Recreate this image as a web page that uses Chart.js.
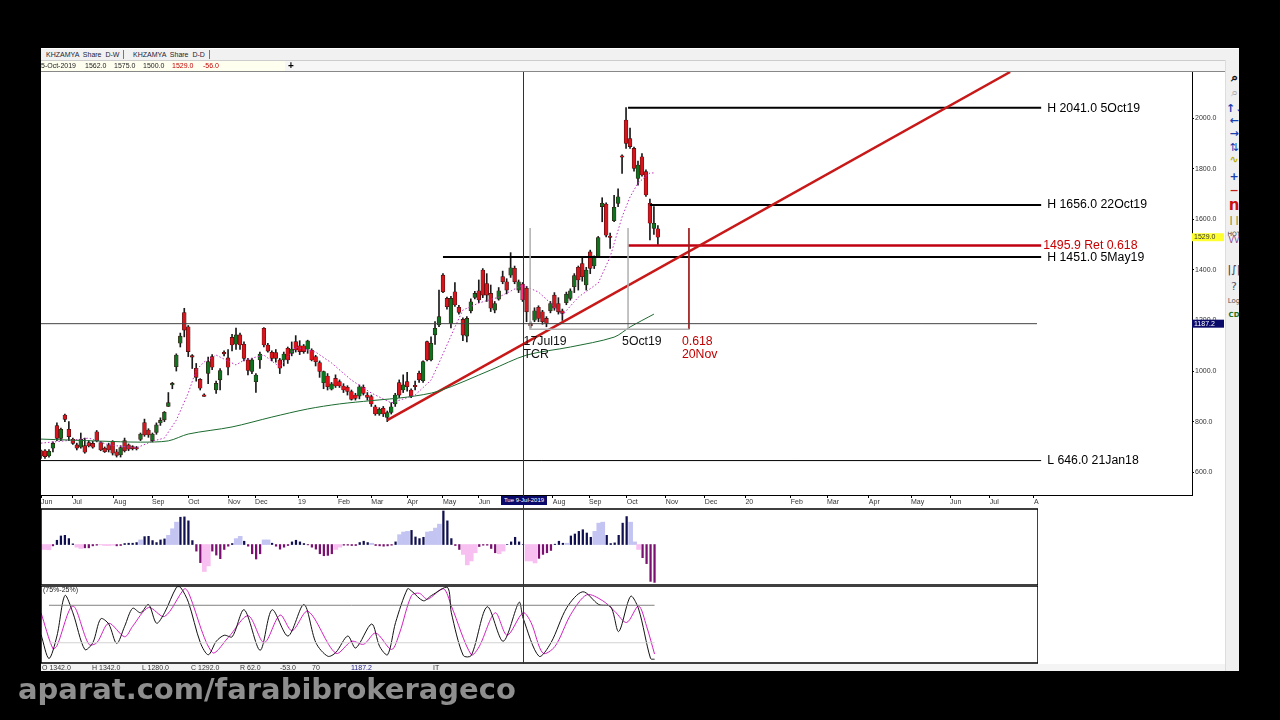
<!DOCTYPE html>
<html>
<head>
<meta charset="utf-8">
<title>KHZAMYA Share D-D</title>
<script src="https://cdn.jsdelivr.net/npm/chart.js@4"></script>
<style>
  html, body { margin: 0; padding: 0; background: #000; }
  #wrap { position: relative; width: 1280px; height: 720px; overflow: hidden; background: #000; font-family: "Liberation Sans", sans-serif; }
  #win { position: absolute; left: 41px; top: 48px; width: 1198px; height: 623px; background: #fff; }
  canvas { position: absolute; filter: blur(0.35px); }
  #tabs { position: absolute; left: 41px; top: 49px; width: 1198px; height: 11px; background: #f1f1f1; border-bottom: 1px solid #ccc; }
  .tab { position: absolute; top: 1px; height: 9px; font-size: 7px; line-height: 9px; color: #223; white-space: pre; border-right: 1px solid #777; padding: 0 4px; }
  #info { position: absolute; left: 41px; top: 61px; width: 1184px; height: 10px; background: #f6f6f6; border-bottom: 1px solid #888; font-size: 7px; line-height: 10px; }
  #info .bg { position: absolute; left: 0; top: 0; width: 244px; height: 10px; background: #fffff0; }
  #info span { position: absolute; top: 0; white-space: pre; color: #222; }
  #status { position: absolute; left: 41px; top: 664px; width: 1184px; height: 7px; background: #f4f4f4; font-size: 7px; line-height: 8px; color: #333; }
  #status span { position: absolute; top: 0; white-space: pre; }
  #dateBox { position: absolute; left: 501px; top: 496px; width: 46px; height: 9px; background: #0a0a6a; color: #fff; font-size: 6px; line-height: 9px; text-align: center; white-space: pre; }
  #bars { position: absolute; left: 1225px; top: 60px; width: 13px; height: 611px; background: #f0f0f0; border-left: 1px solid #ddd; overflow: hidden; }
  #bars span { position: absolute; left: 0; width: 16px; text-align: center; font-family: "DejaVu Sans", sans-serif; font-size: 11px; line-height: 12px; }
  #mark { position: absolute; left: 18px; top: 671px; font-family: "DejaVu Sans", sans-serif; font-weight: 700; font-size: 29px; line-height: 36px; color: #8e8e8e; white-space: pre; }
</style>
</head>
<body>
<div id="wrap">
  <div id="win"></div>
  <canvas id="priceChart" width="1186" height="440" style="left:40px;top:72px"></canvas>
  <canvas id="macdChart" width="998" height="90" style="left:40px;top:495px"></canvas>
  <canvas id="stochChart" width="998" height="79" style="left:40px;top:585px"></canvas>

  <div id="tabs">
    <div class="tab" style="left:1px">KHZAMYA  Share  D-W</div>
    <div class="tab" style="left:88px">KHZAMYA  Share  D-D</div>
  </div>
  <div id="info">
    <div class="bg"></div>
    <span style="left:0">5-Oct-2019</span>
    <span style="left:44px">1562.0</span>
    <span style="left:73px">1575.0</span>
    <span style="left:102px">1500.0</span>
    <span style="left:131px;color:#c00000">1529.0</span>
    <span style="left:162px;color:#c00000">-56.0</span>
    <span style="left:247px;font-size:10px;font-weight:bold;color:#000">+</span>
  </div>
  <div id="dateBox">Tue 9-Jul-2019</div>
  <div id="status">
    <span style="left:1px">O 1342.0</span>
    <span style="left:51px">H 1342.0</span>
    <span style="left:101px">L 1280.0</span>
    <span style="left:150px">C 1292.0</span>
    <span style="left:199px">R 62.0</span>
    <span style="left:239px">-53.0</span>
    <span style="left:271px">70</span>
    <span style="left:310px;color:#22228a">1187.2</span>
    <span style="left:392px">IT</span>
  </div>
  <div id="bars">
    <span style="top:12px;font-weight:bold;color:#111;font-size:13px">&#8981;</span>
    <span style="top:27px;color:#aaa;font-size:13px">&#8981;</span>
    <span style="top:43px;color:#1a3fb0;font-weight:bold">&#8593;&#8595;</span>
    <span style="top:55px;color:#1a3fb0;font-weight:bold">&#8592;</span>
    <span style="top:68px;color:#1a3fb0;font-weight:bold">&#8594;</span>
    <span style="top:82px;color:#1a3fb0">&#8645;</span>
    <span style="top:94px;color:#c0b000;font-weight:bold">&#8767;</span>
    <span style="top:111px;color:#1a3fb0;font-weight:bold">+</span>
    <span style="top:125px;color:#c02020;font-weight:bold">&#8722;</span>
    <span style="top:139px;color:#c81010;font-size:15px;font-weight:bold">n</span>
    <span style="top:154px;color:#207020;font-size:9px">| |</span>
    <span style="top:168px;color:#333;font-size:6px">HOT</span>
    <span style="top:175px;color:#804090;font-size:8px">VV</span>
    <span style="top:204px;color:#334;font-size:11px">|&#8747;|</span>
    <span style="top:221px;color:#556;font-size:11px">?</span>
    <span style="top:235px;color:#555;font-size:7px">Log</span>
    <span style="top:249px;color:#207020;font-size:7px;font-weight:bold">CD</span>
  </div>
  <div id="mark">aparat.com/farabibrokerageco</div>
</div>

<script>
// price candles, one per slot
let opens = [685,685,664,695,784,734,826,770,730,708,699,705,717,714,760,717,695,708,722,681,668,725,708,701,697,730,796,767,725,757,795,807,860,945,1017,1110,1231,1175,1060,1011,967,905,991,1057,925,965,1070,1052,1133,1106,1143,1106,1044,998,958,1044,1169,1103,1074,1073,1044,1044,1090,1070,1116,1100,1100,1086,1083,1057,1033,954,980,928,971,958,941,936,919,905,901,936,905,899,859,830,853,817,836,870,954,925,958,925,940,991,962,1116,1044,1143,1182,1379,1287,1188,1313,1252,1204,1138,1238,1291,1317,1399,1346,1307,1241,1284,1373,1353,1379,1406,1320,1344,1327,1188,1201,1252,1234,1208,1238,1300,1267,1238,1270,1287,1333,1410,1425,1340,1471,1415,1452,1650,1660,1531,1594,1663,1850,1992,1919,1880,1761,1847,1788,1663,1564,1562];
let highs = [688,690,690,720,795,775,830,800,735,715,755,735,725,722,765,722,700,715,725,690,705,735,712,705,702,755,810,772,755,795,815,840,915,955,1068,1150,1248,1180,1065,1030,970,910,1055,1065,960,1010,1080,1085,1145,1170,1150,1115,1050,1050,990,1075,1172,1110,1080,1085,1050,1075,1095,1115,1140,1120,1105,1122,1088,1062,1040,1000,990,955,985,965,950,942,925,912,945,945,915,905,865,855,860,842,875,912,965,985,995,930,960,1000,1040,1118,1135,1195,1320,1385,1292,1295,1350,1260,1210,1215,1285,1315,1360,1405,1385,1340,1275,1330,1395,1365,1468,1415,1360,1350,1335,1195,1250,1258,1240,1215,1275,1310,1290,1245,1312,1325,1385,1415,1450,1410,1478,1455,1532,1685,1665,1545,1695,1720,1855,2041,1960,1885,1830,1860,1795,1680,1650,1575];
let lows = [655,655,660,680,725,725,800,725,710,688,695,675,700,695,720,685,678,680,668,660,660,680,685,688,688,725,742,738,720,750,785,800,860,930,1000,1095,1135,1057,1010,960,925,900,950,1005,912,925,1060,985,1080,1085,1085,1040,985,990,915,1010,1095,1075,1040,1035,990,1020,1030,1060,1075,1065,1070,1070,1040,1020,975,930,925,925,935,935,915,905,885,885,890,905,885,860,825,825,820,800,830,860,895,915,920,895,925,955,955,1040,1040,1105,1175,1310,1245,1170,1255,1225,1120,1115,1230,1285,1270,1290,1275,1235,1230,1280,1345,1305,1370,1345,1310,1275,1195,1170,1195,1195,1185,1175,1230,1240,1225,1200,1262,1280,1310,1320,1355,1320,1385,1405,1448,1590,1530,1485,1590,1650,1781,1880,1880,1790,1735,1770,1690,1518,1540,1500];
let closes = [664,662,683,714,734,770,809,741,714,695,730,679,704,699,725,688,681,688,675,666,697,685,691,693,692,751,747,747,751,787,805,837,875,950,1063,1138,1162,1077,1055,975,932,900,1037,1015,951,1002,1068,1015,1103,1143,1103,1050,1002,1044,984,1067,1103,1079,1050,1050,1011,1067,1044,1087,1083,1077,1077,1119,1044,1037,998,998,938,949,941,941,925,919,888,892,938,912,896,870,830,849,830,836,859,905,905,945,938,901,938,965,1037,1044,1110,1169,1215,1313,1254,1287,1261,1232,1142,1208,1274,1307,1281,1300,1300,1248,1267,1317,1353,1320,1408,1353,1353,1281,1234,1178,1238,1208,1195,1188,1267,1248,1234,1228,1304,1317,1377,1360,1373,1399,1406,1449,1528,1663,1537,1528,1647,1689,1845,1900,1887,1801,1814,1775,1696,1584,1584,1529];
let selectedCandle = 121;

// moving averages: read at some days only
let slowDays = [0,15,25,32,37,48,58,67,75,83,92,100,113,122,133,144,148,154];
let slowValues = [731,723,719,724,751,779,818,850,870,883,897,921,1004,1063,1095,1134,1174,1225];
let fastDays = [0,8,12,17,24,28,31,34,37,39,41,44,49,51,56,60,64,69,73,78,83,88,94,98,100,104,106,110,115,121,125,128,131,135,140,143,146,148,150,153,154];
let fastValues = [715,727,735,708,696,723,735,806,913,1004,1036,1063,1024,1043,1063,1016,1095,1075,1032,964,913,874,905,964,1032,1174,1241,1269,1292,1340,1312,1269,1221,1292,1348,1451,1609,1688,1743,1783,1783];

// drawn levels
let levelStart = [147.5, 153, 101];
let levelValues = [2041, 1656, 1451];
let levelTexts = ['H 2041.0 5Oct19', 'H 1656.0 22Oct19', 'H 1451.0 5May19'];
let levelEnd = 251.3;
let retValue = 1495.9;
let retText = '1495.9 Ret 0.618';
let lowValue = 646;
let lowText = 'L 646.0 21Jan18';
let crossDay = 121;
let crossValue = 1187.2;
let lastValue = 1529;
let trendDays = [87, 243.5];
let trendValues = [806, 2182];
// time cycle box
let cycleStart = 122.9;
let cycleMid = 147.5;
let cycleEnd = 162.8;
let cycleBottom = 1165;
let cycleTop = 1565;

// axis ticks
let priceTicks = [600, 800, 1000, 1200, 1400, 1600, 1800, 2000];
let monthDays = [0,8,18.3,27.9,37,47,53.8,64.6,74.6,83,92,101,110,128.6,137.7,147.2,157,166.8,177,188.4,197.5,208,218.6,228.4,238.4,249.5];
let monthLabels = ['Jun','Jul','Aug','Sep','Oct','Nov','Dec','19','Feb','Mar','Apr','May','Jun','Aug','Sep','Oct','Nov','Dec','20','Feb','Mar','Apr','May','Jun','Jul','A'];

// histogram panel
let histValues = [-15,-15,-16,-4,13,26,28,18,2,-8,-12,-10,-10,-4,-2,-1,-3,-3,-2,-4,-3,3,4,4,6,14,24,25,12,6,14,17,28,48,68,83,84,72,12,-20,-55,-82,-65,-20,-32,-43,-15,-5,3,18,25,10,-5,-28,-44,-28,14,14,4,-5,-14,-8,-3,8,13,8,3,-1,-8,-14,-28,-34,-33,-28,-15,-8,-2,-2,-3,-3,6,10,6,4,-3,-4,-5,-4,-2,8,30,38,40,43,23,18,22,38,40,50,62,102,72,18,-3,-15,-30,-62,-50,-25,-6,-2,-2,-12,-25,-28,-20,0,8,22,8,0,-50,-50,-56,-42,-30,-25,-18,1,10,4,4,26,32,40,45,35,22,40,65,68,28,3,5,28,65,85,68,8,-15,-40,-58,-112,-115];
let histFaded = [0,1,2,9,10,15,16,17,18,25,32,33,34,41,42,49,50,56,57,74,75,83,90,91,92,97,98,99,100,106,107,108,109,115,116,122,123,124,132,139,140,141,148,149,150];

// stochastic panel
let kDays = [0,2,4,6,8,11,13,15,17,19,21,23,25,27,29,31,34,35,37,40,42,44,46,48,51,55,58,62,66,69,72,74,77,79,83,85,87,89,92,93,96,98,102,103,106,108,112,116,120,121,125,128,132,136,140,143,145,148,150,153,154];
let kValues = [36,4,34,88,65,16,25,57,50,24,47,71,65,76,51,65,99,99,79,25,9,27,35,33,69,15,69,34,76,25,7,12,34,18,50,20,9,52,97,94,81,88,99,65,8,8,73,27,79,58,7,25,72,93,76,73,40,87,70,4,3];
let dDays = [0,3,4,8,12,14,17,21,23,27,31,36,37,43,47,52,56,60,63,67,74,78,81,84,88,90,93,95,97,101,103,108,110,114,117,121,123,126,129,133,137,141,144,147,150,152,154];
let dValues = [65,17,21,74,23,25,51,33,47,72,60,97,92,12,32,61,25,62,41,67,11,27,23,38,16,38,88,91,83,97,74,9,20,65,35,65,52,11,20,63,89,81,67,52,74,47,10];
let stochLevels = [75, 25];
let stochStart = 2;
let stochEnd = 154;

let lastSlot = 289.2;      // right edge of price window
let panelLastSlot = 250.25; // right edge of lower panels

let candleDays = opens.map(function(v, i) { return i; });
let textFont = '12.3px "Liberation Sans"';

function pairs(xs, ys) {
  return xs.map(function(x, i) { return { x: x, y: ys[i] }; });
}

function lineSet(data, color, width, extra) {
  return Object.assign({
    type: 'line', data: data, borderColor: color, borderWidth: width,
    pointRadius: 0, tension: 0, fill: false
  }, extra || {});
}

function hiddenScale(min, max) {
  return { type: 'linear', min: min, max: max, display: false, offset: false };
}

// vertical cursor line that runs over the whole canvas height
let crossPlugin = {
  id: 'crossLine',
  afterDraw(chart) {
    let ctx = chart.ctx;
    let x = Math.round(chart.scales.x.getPixelForValue(crossDay)) + 0.5;
    ctx.save();
    ctx.strokeStyle = '#333';
    ctx.lineWidth = 1;
    ctx.beginPath();
    ctx.moveTo(x, 0);
    ctx.lineTo(x, chart.height);
    ctx.stroke();
    ctx.restore();
  }
};

let framePlugin = {
  id: 'panelFrame',
  afterDraw(chart) {
    let a = chart.chartArea;
    let ctx = chart.ctx;
    ctx.save();
    ctx.strokeStyle = '#000';
    ctx.lineWidth = 1.5;
    ctx.strokeRect(a.left, a.top, a.right - a.left, a.bottom - a.top);
    ctx.restore();
  }
};

let pricePlugin = {
  id: 'priceLabels',
  afterDraw(chart) {
    let ctx = chart.ctx;
    let xs = chart.scales.x;
    let ys = chart.scales.y;
    let textX = xs.getPixelForValue(levelEnd) + 6;

    ctx.save();
    ctx.font = textFont;
    ctx.textBaseline = 'middle';
    ctx.fillStyle = '#000';
    levelTexts.forEach(function(t, i) {
      ctx.fillText(t, textX, ys.getPixelForValue(levelValues[i]) + (i == 1 ? 0 : 1));
    });
    ctx.fillText(lowText, textX, ys.getPixelForValue(lowValue));
    ctx.fillStyle = '#c80000';
    ctx.fillText(retText, textX - 4, ys.getPixelForValue(retValue));

    // time cycle captions
    let capY = ys.getPixelForValue(cycleBottom);
    ctx.fillStyle = '#111';
    ctx.fillText('17Jul19', xs.getPixelForValue(crossDay) + 1, capY + 12);
    ctx.fillText('TCR', xs.getPixelForValue(crossDay) + 1, capY + 25);
    ctx.fillText('5Oct19', xs.getPixelForValue(cycleMid) - 6, capY + 12);
    ctx.fillStyle = '#c00000';
    ctx.fillText('0.618', xs.getPixelForValue(cycleEnd) - 7, capY + 12);
    ctx.fillText('20Nov', xs.getPixelForValue(cycleEnd) - 7, capY + 25);

    // value boxes on the right axis
    let left = chart.chartArea.right;
    ctx.font = '7px "Liberation Sans"';
    ctx.textBaseline = 'middle';
    let y = ys.getPixelForValue(lastValue);
    ctx.fillStyle = '#ffff30';
    ctx.fillRect(left, y - 4, 32, 8);
    ctx.fillStyle = '#333';
    ctx.fillText(lastValue.toFixed(1), left + 2, y);
    y = ys.getPixelForValue(crossValue);
    ctx.fillStyle = '#0a0a6a';
    ctx.fillRect(left, y - 4, 32, 8);
    ctx.fillStyle = '#fff';
    ctx.fillText(crossValue.toFixed(1), left + 2, y);
    ctx.restore();
  }
};

// candles
let bodyData = candleDays.map(function(d, i) { return { x: d, y: [opens[i], closes[i]] }; });
let wickData = candleDays.map(function(d, i) { return { x: d, y: [lows[i], highs[i]] }; });

function bodyColor(ctx) {
  let i = ctx.dataIndex;
  if (i == selectedCandle) return '#ff2d7a';
  return closes[i] < opens[i] ? '#d8141c' : '#0c7420';
}

let priceDatasets = [
  lineSet([{ x: 0, y: crossValue }, { x: panelLastSlot, y: crossValue }], '#444', 1),
  lineSet([{ x: cycleStart, y: cycleTop }, { x: cycleStart, y: cycleBottom }, { x: cycleEnd, y: cycleBottom }], '#b0b0b0', 1.5),
  lineSet([{ x: cycleMid, y: cycleTop }, { x: cycleMid, y: cycleBottom }], '#b0b0b0', 1.5),
  lineSet([{ x: cycleEnd, y: cycleTop }, { x: cycleEnd, y: cycleBottom }], '#a02020', 1),
  lineSet(pairs(slowDays, slowValues), '#1c6b30', 1, { tension: 0.3 }),
  lineSet(pairs(fastDays, fastValues), '#c030c0', 1, { borderDash: [1.5, 2] }),
  {
    type: 'bar', data: wickData, backgroundColor: '#1a1a1a',
    barThickness: 1, grouped: false, order: 2
  },
  {
    type: 'bar', data: bodyData, backgroundColor: bodyColor, borderColor: '#3a1010',
    borderWidth: 0.6, borderSkipped: false, barThickness: 3.8, minBarLength: 1.5,
    grouped: false, order: 1
  },
  lineSet(pairs(trendDays, trendValues), '#c81818', 2.5, { order: 0 }),
  lineSet([{ x: levelStart[0], y: levelValues[0] }, { x: levelEnd, y: levelValues[0] }], '#000', 2, { order: 0 }),
  lineSet([{ x: levelStart[1], y: levelValues[1] }, { x: levelEnd, y: levelValues[1] }], '#000', 2, { order: 0 }),
  lineSet([{ x: levelStart[2], y: levelValues[2] }, { x: levelEnd, y: levelValues[2] }], '#000', 2, { order: 0 }),
  lineSet([{ x: cycleMid, y: retValue }, { x: levelEnd, y: retValue }], '#c00010', 2.5, { order: 0 }),
  lineSet([{ x: 0, y: lowValue }, { x: levelEnd, y: lowValue }], '#000', 1, { order: 0 })
];

new Chart(document.getElementById('priceChart'), {
  data: { datasets: priceDatasets },
  plugins: [pricePlugin, crossPlugin],
  options: {
    responsive: false,
    animation: false,
    layout: { padding: { left: 1, top: 0, right: 0, bottom: 0 } },
    plugins: { legend: { display: false }, tooltip: { enabled: false } },
    scales: {
      x: {
        type: 'linear', min: 0, max: lastSlot, offset: false,
        afterBuildTicks(scale) {
          scale.ticks = monthDays.map(function(d) { return { value: d }; });
        },
        afterFit(scale) {
          scale.height = 17;
          scale.paddingLeft = 0;
          scale.paddingRight = 0;
        },
        border: { color: '#000', width: 1 },
        grid: { offset: false, drawOnChartArea: false, tickLength: 3, color: '#000' },
        ticks: {
          autoSkip: false, maxRotation: 0, align: 'start', padding: 0,
          color: '#333', font: { size: 7, family: 'Liberation Sans' },
          callback(value, index) { return monthLabels[index]; }
        }
      },
      y: {
        type: 'linear', position: 'right', min: 510, max: 2182,
        afterBuildTicks(scale) {
          scale.ticks = priceTicks.map(function(v) { return { value: v }; });
        },
        afterFit(scale) {
          scale.width = 34;
          scale.paddingTop = 0;
          scale.paddingBottom = 0;
        },
        border: { color: '#000', width: 1 },
        grid: { drawOnChartArea: false, tickLength: 2, color: '#000' },
        ticks: {
          padding: 1, color: '#333', font: { size: 7, family: 'Liberation Sans' },
          callback(value) { return value.toFixed(1); }
        }
      }
    }
  }
});

// histogram
let histPale = [];
let histDark = [];
histValues.forEach(function(v, i) {
  if (histFaded.indexOf(i) >= 0) histPale.push({ x: i, y: v });
  else histDark.push({ x: i, y: v });
});

new Chart(document.getElementById('macdChart'), {
  data: {
    datasets: [
      {
        type: 'bar', data: histPale, barThickness: 4, grouped: false,
        backgroundColor(ctx) { return ctx.raw && ctx.raw.y < 0 ? '#f8c0f0' : '#c4c4f2'; }
      },
      {
        type: 'bar', data: histDark, barThickness: 1.6, grouped: false,
        backgroundColor(ctx) { return ctx.raw && ctx.raw.y < 0 ? '#7a1070' : '#101050'; }
      }
    ]
  },
  plugins: [framePlugin, crossPlugin],
  options: {
    responsive: false,
    animation: false,
    layout: { padding: { left: 1, top: 14, right: 0, bottom: 0 } },
    plugins: { legend: { display: false }, tooltip: { enabled: false } },
    scales: { x: hiddenScale(0, panelLastSlot), y: hiddenScale(-123, 108) }
  }
});

// stochastic
new Chart(document.getElementById('stochChart'), {
  data: {
    datasets: [
      lineSet([{ x: stochStart, y: stochLevels[0] }, { x: stochEnd, y: stochLevels[0] }], '#808080', 1),
      lineSet([{ x: stochStart, y: stochLevels[1] }, { x: stochEnd, y: stochLevels[1] }], '#d2d2d2', 1),
      lineSet(pairs(kDays, kValues), '#111', 1, { tension: 0.3 }),
      lineSet(pairs(dDays, dValues), '#d020c0', 1, { tension: 0.3 })
    ]
  },
  plugins: [framePlugin, crossPlugin, {
    id: 'stochCaption',
    afterDraw(chart) {
      let ctx = chart.ctx;
      ctx.save();
      ctx.font = '7px "Liberation Sans"';
      ctx.fillStyle = '#222';
      ctx.textBaseline = 'top';
      ctx.fillText('(75%-25%)', chart.chartArea.left + 2, chart.chartArea.top + 1);
      ctx.restore();
    }
  }],
  options: {
    responsive: false,
    animation: false,
    layout: { padding: { left: 1, top: 1, right: 0, bottom: 1 } },
    plugins: { legend: { display: false }, tooltip: { enabled: false } },
    scales: { x: hiddenScale(0, panelLastSlot), y: hiddenScale(-2, 100.7) }
  }
});
</script>
</body>
</html>
